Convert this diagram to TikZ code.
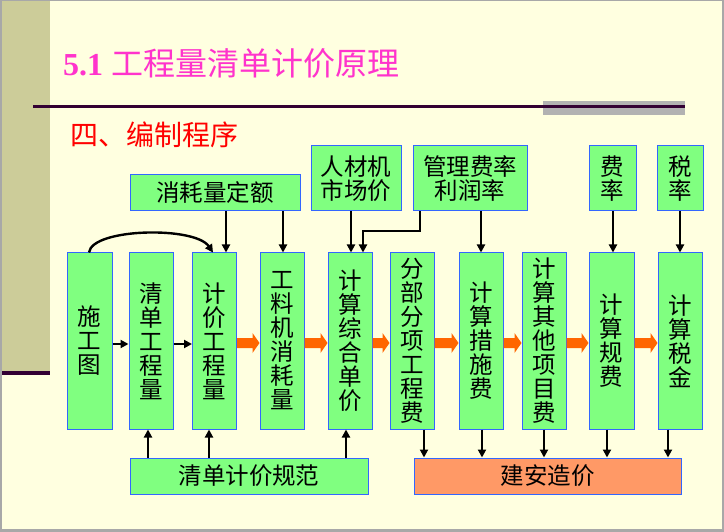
\documentclass[tikz,border=0pt]{standalone}
\usepackage{fontspec}
\setmainfont{Liberation Serif}
\newfontfamily\cjk{Noto Sans CJK SC}
\usetikzlibrary{arrows.meta,calc}
\definecolor{bgy}{HTML}{FFFFE0}
\definecolor{strip}{HTML}{CCCC99}
\definecolor{dline}{HTML}{330033}
\definecolor{gbar}{HTML}{B2B2B2}
\definecolor{bgreen}{HTML}{80FF80}
\definecolor{bblue}{HTML}{3366FF}
\definecolor{oarrc}{HTML}{FF6600}
\definecolor{salmon}{HTML}{FF9966}
\definecolor{tmag}{HTML}{FF33CC}
\definecolor{frame}{HTML}{A8A8A8}
\newcommand\boxfont{\cjk\fontsize{23.5}{24}\selectfont}
\newcommand\fatarr[2]{%
  \fill[oarrc] ($(#1.east)+(0,-3)$) -- ($(#2.west)+(-7,-3)$) -- ($(#2.west)+(-7,-8)$)
    -- ($(#2.west)+(0,2)$) -- ($(#2.west)+(-7,12)$) -- ($(#2.west)+(-7,7)$)
    -- ($(#1.east)+(0,7)$) -- cycle;}
\tikzset{
  gbox/.style={draw=bblue, fill=bgreen, line width=1pt, inner sep=0pt, align=center, font=\boxfont},
  sbox/.style={gbox, fill=salmon},
  arr/.style={-{Triangle[length=8pt,width=8pt]}, line width=2.2pt, black},
}
\begin{document}
\begin{tikzpicture}[x=1pt,y=-1pt]
\useasboundingbox (0,0) rectangle (724,532);
% frame and background
\fill[frame] (0,0) rectangle (724,532);
\fill[bgy] (2,1) rectangle (722,529);
\fill[strip] (2,1) rectangle (50,371);
\fill[dline] (2,371) rectangle (50,375);
% title bar
\fill[gbar] (543,101) rectangle (685,115);
\fill[dline] (33,105) rectangle (685,108);
\node[anchor=west, inner sep=0pt, text=tmag] (title) at (63,63)
  {\fontsize{32}{36}\selectfont\textbf{5.1} {\cjk 工程量清单计价原理}};
\node[anchor=west, inner sep=0pt, text=red] (sub) at (70,135)
  {\cjk\fontsize{28}{32}\selectfont 四、编制程序};
% top boxes
\node[gbox, minimum width=170pt, minimum height=36pt] (t1) at (215,193) {消耗量定额};
\node[gbox, minimum width=90pt, minimum height=65pt] (t2) at (356,178.5) {人材机\\市场价};
\node[gbox, minimum width=114pt, minimum height=65pt] (t3) at (470,178.5) {管理费率\\利润率};
\node[gbox, minimum width=47pt, minimum height=65pt] (t4) at (612.5,178.5) {费\\率};
\node[gbox, minimum width=46pt, minimum height=65pt] (t5) at (680,178.5) {税\\率};
% main row
\node[gbox, minimum width=45pt, minimum height=176pt] (a) at (89.5,341) {施\\工\\图};
\node[gbox, minimum width=44pt, minimum height=176pt] (b) at (151,341) {清\\单\\工\\程\\量};
\node[gbox, minimum width=44pt, minimum height=176pt] (c) at (214.5,341) {计\\价\\工\\程\\量};
\node[gbox, minimum width=44pt, minimum height=176pt] (d) at (282,341) {工\\料\\机\\消\\耗\\量};
\node[gbox, minimum width=44pt, minimum height=176pt] (e) at (350,341) {计\\算\\综\\合\\单\\价};
\node[gbox, minimum width=44pt, minimum height=176pt] (f) at (412,341) {分\\部\\分\\项\\工\\程\\费};
\node[gbox, minimum width=44pt, minimum height=176pt] (g) at (481,341) {计\\算\\措\\施\\费};
\node[gbox, minimum width=44pt, minimum height=176pt] (h) at (544,341) {计\\算\\其\\他\\项\\目\\费};
\node[gbox, minimum width=45pt, minimum height=176pt] (i) at (611.5,341) {计\\算\\规\\费};
\node[gbox, minimum width=44pt, minimum height=176pt] (j) at (680,341) {计\\算\\税\\金};
% bottom boxes
\node[gbox, minimum width=238pt, minimum height=36pt] (b1) at (249,476) {清单计价规范};
\node[sbox, minimum width=267pt, minimum height=36pt] (b2) at (547.5,476) {建安造价};
% small black arrows
\draw[arr] ($(a.east)+(0,3)$) -- ($(b.west)+(0,3)$);
\draw[arr] ($(b.east)+(0,3)$) -- ($(c.west)+(0,3)$);
% orange arrows
\fatarr{c}{d}
\fatarr{d}{e}
\fatarr{e}{f}
\fatarr{f}{g}
\fatarr{g}{h}
\fatarr{h}{i}
\fatarr{i}{j}
% curved arrow
\draw[line width=2.4pt, -{Triangle[length=8pt,width=8pt]}] (89,0 |- a.north)
  .. controls (92,228) and (195,226) .. (213,0 |- c.north);
% top arrows
\draw[arr] (226,0 |- t1.south) -- (226,0 |- c.north);
\draw[arr] (283,0 |- t1.south) -- (283,0 |- d.north);
\draw[arr] (351,0 |- t2.south) -- (351,0 |- e.north);
\draw[arr] (420,0 |- t3.south) |- (363,231) -- (363,0 |- e.north);
\draw[arr] (481,0 |- t3.south) -- (481,0 |- g.north);
\draw[arr] (613,0 |- t4.south) -- (613,0 |- i.north);
\draw[arr] (680,0 |- t5.south) -- (680,0 |- j.north);
% bottom arrows
\draw[arr] (148,0 |- b1.north) -- (148,0 |- b.south);
\draw[arr] (209,0 |- b1.north) -- (209,0 |- c.south);
\draw[arr] (346,0 |- b1.north) -- (346,0 |- e.south);
\draw[arr] (424,0 |- f.south) -- (424,0 |- b2.north);
\draw[arr] (482,0 |- g.south) -- (482,0 |- b2.north);
\draw[arr] (544,0 |- h.south) -- (544,0 |- b2.north);
\draw[arr] (607,0 |- i.south) -- (607,0 |- b2.north);
\draw[arr] (668,0 |- j.south) -- (668,0 |- b2.north);
\end{tikzpicture}
\end{document}
